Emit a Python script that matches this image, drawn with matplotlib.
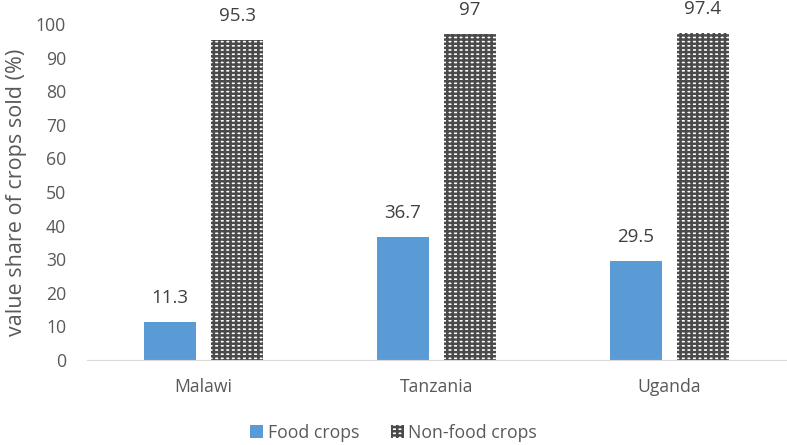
import numpy as np
import matplotlib.pyplot as plt
from matplotlib.patches import Patch

countries = ["Malawi", "Tanzania", "Uganda"]
food = [11.3, 36.7, 29.5]
nonfood = [95.3, 97, 97.4]
food_labels = ["11.3", "36.7", "29.5"]
nonfood_labels = ["95.3", "97", "97.4"]

plt.rcParams["font.family"] = ["Open Sans", "DejaVu Sans"]
plt.rcParams["hatch.linewidth"] = 1.8

fig = plt.figure(figsize=(7.87, 4.45), dpi=100)
ax = fig.add_axes([87 / 787, 1 - 360 / 445, 699 / 787, 336 / 445])

x = np.arange(len(countries))
w = 0.225
off = 0.144
hatch_kw = dict(facecolor="white", edgecolor="#4a4a4a", linewidth=0, hatch="----|||")
ax.bar(x - off, food, w, color="#5b9bd5")
ax.bar(x + off, nonfood, w, **hatch_kw)

for xs, vals, labs in [(x - off, food, food_labels), (x + off, nonfood, nonfood_labels)]:
    for xi, v, s in zip(xs, vals, labs):
        ax.annotate(s, (xi, v), xytext=(0, 17), textcoords="offset points",
                    ha="center", va="center", fontsize=13.5, color="#404040")

ax.set_xlim(-0.5, 2.5)
ax.set_ylim(0, 100)
ax.set_yticks(range(0, 101, 10))
ax.set_xticks(x)
ax.set_xticklabels(countries)
ax.tick_params(length=0, labelsize=12.7, colors="#595959")
ax.tick_params(axis="x", pad=13)
ax.tick_params(axis="y", pad=15)
for sp in ["top", "right", "left"]:
    ax.spines[sp].set_visible(False)
ax.spines["bottom"].set_color("#d9d9d9")
ax.set_ylabel("value share of crops sold (%)", fontsize=15.5, color="#595959")
ax.yaxis.set_label_coords(-60 / 699, 0.5)

handles = [Patch(facecolor="#5b9bd5"), Patch(**hatch_kw)]
fig.legend(handles, ["Food crops", "Non-food crops"], loc="center", bbox_to_anchor=(0.5, 1 - 433 / 445),
           ncol=2, frameon=False, fontsize=12.7, labelcolor="#595959",
           handlelength=0.75, handleheight=0.75, handletextpad=0.25, columnspacing=1.8)

plt.savefig("out.png", dpi=100)
